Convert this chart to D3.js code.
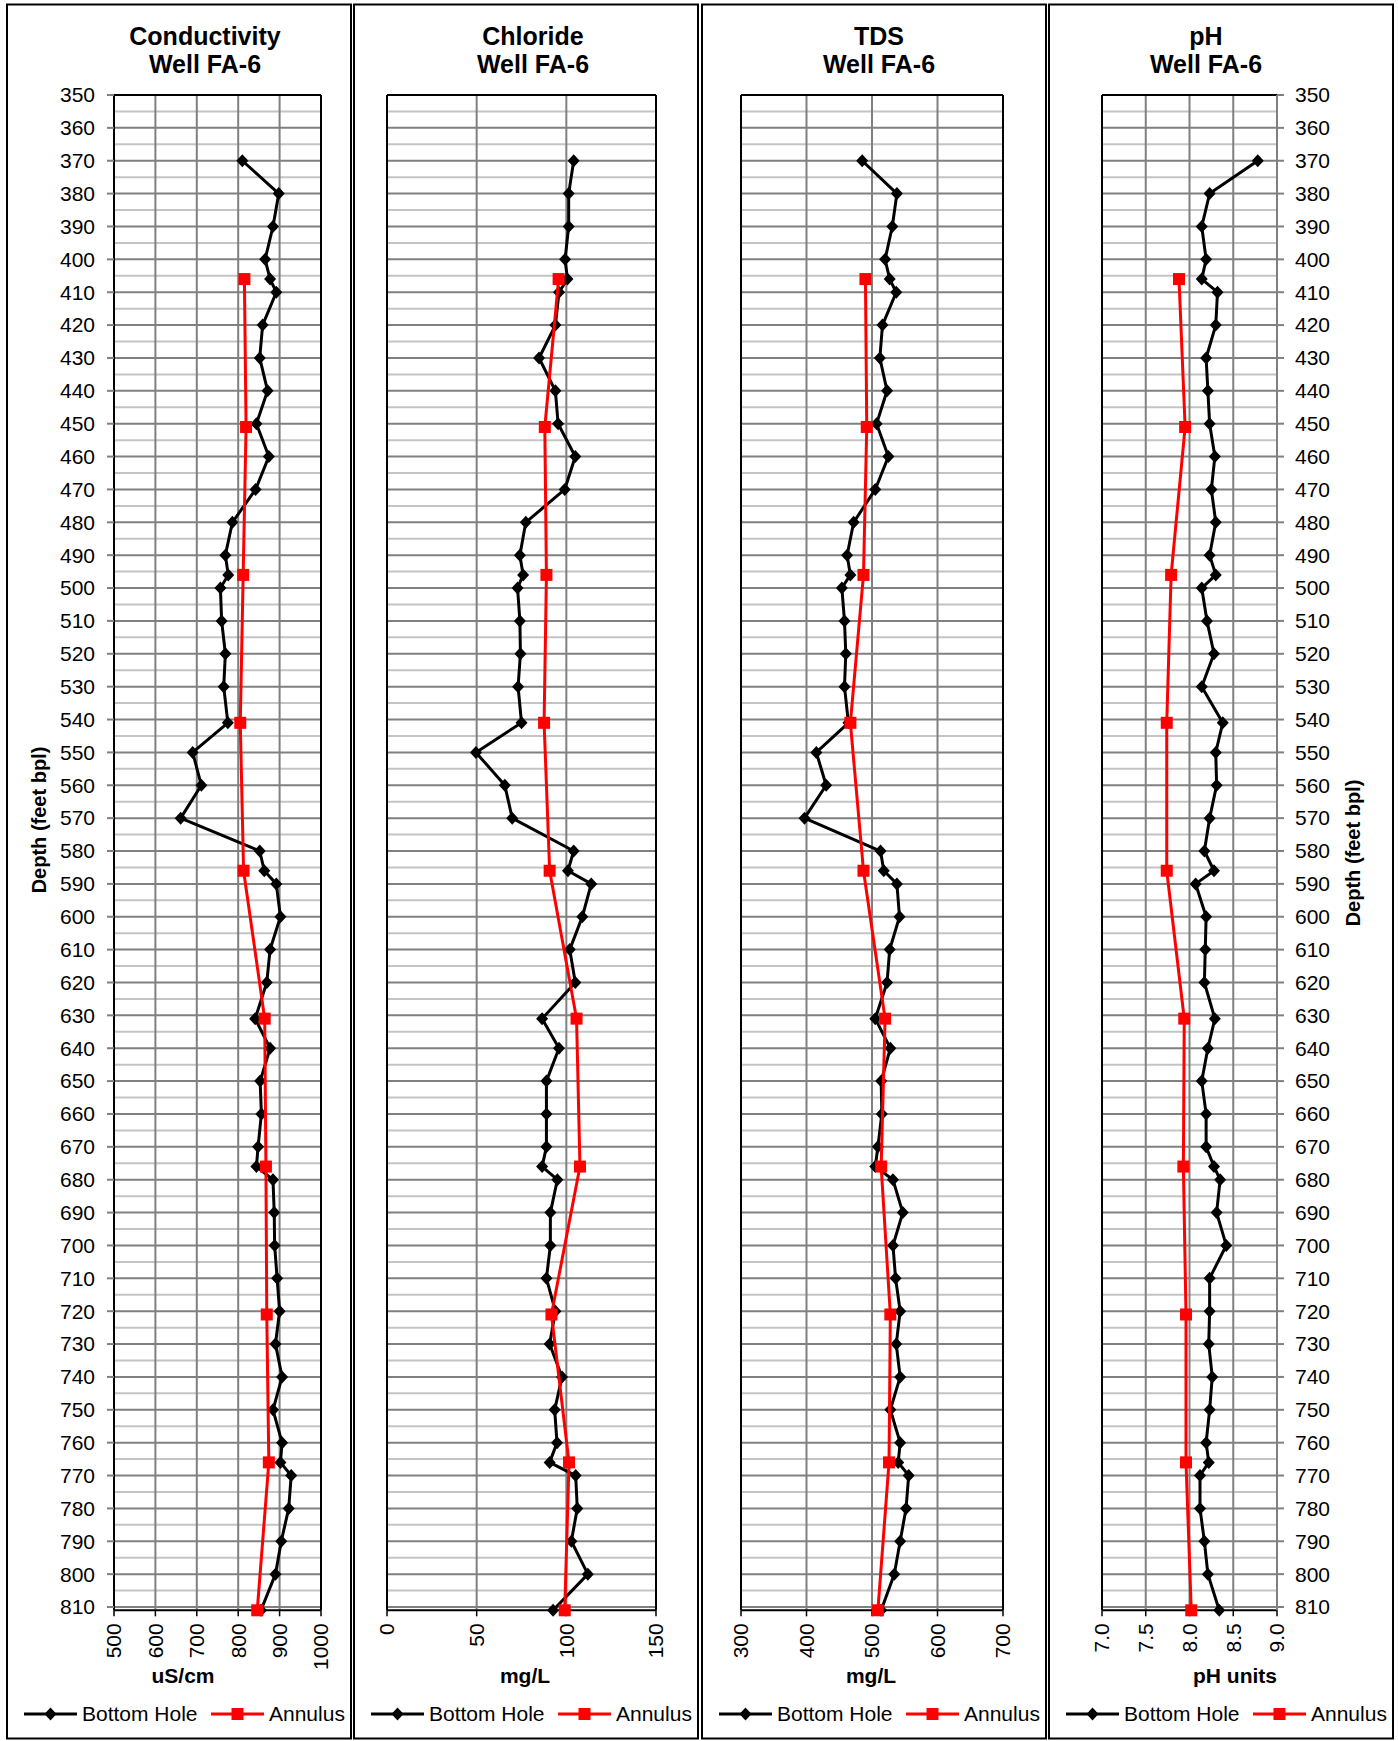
<!DOCTYPE html>
<html>
<head>
<meta charset="utf-8">
<script src="https://cdn.jsdelivr.net/npm/d3@7"></script>
<style>
  body { margin: 0; background: #fff; }
  text { font-family: "Liberation Sans", Arial, sans-serif; fill: #000; }
</style>
</head>
<body>
<div id="chart"></div>
<script>
// sample depths (feet bpl)
const bottomDepth = [370, 380, 390, 400, 406, 410, 420, 430, 440, 450, 460, 470, 480, 490, 496, 500,
  510, 520, 530, 541, 550, 560, 570, 580, 586, 590, 600, 610, 620, 631, 640, 650, 660, 670, 676,
  680, 690, 700, 710, 720, 730, 740, 750, 760, 766, 770, 780, 790, 800, 811];
const annulusDepth = [406, 451, 496, 541, 586, 631, 676, 721, 766, 811];

// conductivity, uS/cm
const condBottom = [810, 898, 884, 865, 877, 892, 859, 852, 871, 844, 874, 842, 786, 769, 776, 757,
  760, 769, 765, 775, 690, 711, 661, 852, 863, 892, 902, 877, 869, 841, 877, 853, 856, 848, 844,
  884, 887, 888, 894, 900, 890, 906, 884, 906, 902, 928, 922, 904, 890, 855];
const condAnnulus = [815, 819, 812, 805, 813, 864, 867, 869, 874, 846];

// chloride, mg/L
const chlBottom = [104.1, 101.3, 101.3, 99.3, 100.6, 95.9, 93.9, 84.8, 93.9, 95.4, 105, 99.1, 77.4, 74.1, 75.9, 72.8,
  74.1, 74.4, 73.1, 75, 49.6, 65.7, 69.8, 104.1, 100.9, 113.9, 108.9, 101.9, 105, 86.5, 95.9, 88.9, 88.9, 88.9, 86.5,
  95, 91.1, 91.1, 88.9, 93.9, 90.7, 97.6, 93.5, 94.8, 90.7, 105.2, 106.1, 102.8, 112, 92.6];
const chlAnnulus = [95.7, 88, 88.9, 87.6, 90.7, 105.7, 107.6, 91.7, 101.5, 99.1];

// TDS, mg/L
const tdsBottom = [485, 538, 531, 520, 527, 537, 516, 512, 523, 507, 525, 505, 472, 462, 467, 454,
  458, 460, 458, 464, 415, 430, 397, 513, 518, 538, 542, 527, 523, 505, 528, 514, 515, 509, 505,
  532, 547, 532, 536, 543, 537, 543, 528, 543, 540, 556, 552, 543, 534, 514];
const tdsAnnulus = [490, 492, 487, 467, 487, 520, 514, 528, 526, 509];

// pH
const phBottom = [8.78, 8.23, 8.14, 8.19, 8.14, 8.32, 8.30, 8.19, 8.21, 8.23, 8.29, 8.25, 8.30, 8.23, 8.30, 8.14,
  8.20, 8.28, 8.14, 8.38, 8.30, 8.31, 8.23, 8.17, 8.28, 8.07, 8.19, 8.18, 8.17, 8.29, 8.21, 8.14, 8.19, 8.19, 8.28,
  8.35, 8.31, 8.42, 8.23, 8.23, 8.22, 8.26, 8.23, 8.19, 8.22, 8.12, 8.12, 8.17, 8.21, 8.34];
const phAnnulus = [7.88, 7.95, 7.79, 7.74, 7.74, 7.94, 7.93, 7.96, 7.96, 8.02];

// axis ticks
const depthTicks = d3.range(350, 811, 10);
const condTicks = [500, 600, 700, 800, 900, 1000];
const chlTicks = [0, 50, 100, 150];
const tdsTicks = [300, 400, 500, 600, 700];
const phTicks = [7.0, 7.5, 8.0, 8.5, 9.0];

const seriesNames = ["Bottom Hole", "Annulus"];

const W = 1398, H = 1741;
const panelW = 344;

const panels = [
  {title: "Conductivity", left: 7, plotL: 114, plotR: 321, ticks: condTicks, fmt: d3.format("d"),
   unit: "uS/cm", unitX: 183, titleX: 205, bottom: condBottom, annulus: condAnnulus, yAxis: "left", yLabY: 820},
  {title: "Chloride", left: 354, plotL: 387, plotR: 656, ticks: chlTicks, fmt: d3.format("d"),
   unit: "mg/L", unitX: 525, titleX: 533, bottom: chlBottom, annulus: chlAnnulus, yAxis: null},
  {title: "TDS", left: 702, plotL: 741, plotR: 1003, ticks: tdsTicks, fmt: d3.format("d"),
   unit: "mg/L", unitX: 871, titleX: 879, bottom: tdsBottom, annulus: tdsAnnulus, yAxis: null},
  {title: "pH", left: 1049, plotL: 1102, plotR: 1277, ticks: phTicks, fmt: d3.format(".1f"),
   unit: "pH units", unitX: 1235, titleX: 1206, bottom: phBottom, annulus: phAnnulus, yAxis: "right", yLabY: 853}
];

const svg = d3.select("#chart").append("svg")
  .attr("width", W).attr("height", H);

svg.append("rect").attr("width", W).attr("height", H).attr("fill", "#fff");

const y = d3.scaleLinear().domain([350, 811]).range([95, 95 + 461 * 3.287]);
const plotTop = y(350), plotBot = y(811);

const diamond = "M0,-6.5L6,0L0,6.5L-6,0Z";

panels.forEach(p => {
  const g = svg.append("g");
  const x = d3.scaleLinear().domain(d3.extent(p.ticks)).range([p.plotL, p.plotR]);

  // panel border
  g.append("rect")
    .attr("x", p.left).attr("y", 4.5)
    .attr("width", panelW).attr("height", 1734)
    .attr("fill", "none").attr("stroke", "#000").attr("stroke-width", 2);

  // title
  g.append("text")
    .attr("x", p.titleX).attr("y", 45)
    .attr("text-anchor", "middle")
    .style("font-size", "25px").style("font-weight", "bold")
    .text(p.title);
  g.append("text")
    .attr("x", p.titleX).attr("y", 73)
    .attr("text-anchor", "middle")
    .style("font-size", "25px").style("font-weight", "bold")
    .text("Well FA-6");

  // horizontal grid every 5 ft
  g.selectAll("line.hgrid")
    .data(d3.range(350, 811, 5))
    .join("line")
    .attr("class", "hgrid")
    .attr("x1", p.plotL).attr("x2", p.plotR)
    .attr("y1", d => y(d)).attr("y2", d => y(d))
    .attr("stroke", d => d % 10 === 0 ? "#808080" : "#c4c4c4")
    .attr("stroke-width", 2);

  // vertical grid
  g.selectAll("line.vgrid")
    .data(p.ticks.slice(1))
    .join("line")
    .attr("class", "vgrid")
    .attr("x1", d => x(d)).attr("x2", d => x(d))
    .attr("y1", plotTop).attr("y2", plotBot)
    .attr("stroke", "#808080")
    .attr("stroke-width", 2);

  // frame
  g.append("line").attr("x1", p.plotL).attr("x2", p.plotR).attr("y1", plotTop).attr("y2", plotTop)
    .attr("stroke", "#000").attr("stroke-width", 2);
  g.append("line").attr("x1", p.plotL).attr("x2", p.plotR).attr("y1", plotBot).attr("y2", plotBot)
    .attr("stroke", "#000").attr("stroke-width", 2);
  g.append("line").attr("x1", p.plotL).attr("x2", p.plotL).attr("y1", plotTop).attr("y2", plotBot)
    .attr("stroke", "#000").attr("stroke-width", 2);
  g.append("line").attr("x1", p.plotR).attr("x2", p.plotR).attr("y1", plotTop).attr("y2", plotBot)
    .attr("stroke", p.yAxis === "right" ? "#808080" : "#000").attr("stroke-width", 2);

  // x ticks and labels (rotated)
  g.selectAll("line.xtick")
    .data(p.ticks)
    .join("line")
    .attr("class", "xtick")
    .attr("x1", d => x(d)).attr("x2", d => x(d))
    .attr("y1", plotBot).attr("y2", plotBot + 6)
    .attr("stroke", "#000").attr("stroke-width", 1.5);
  g.selectAll("text.xlab")
    .data(p.ticks)
    .join("text")
    .attr("class", "xlab")
    .attr("transform", d => `translate(${x(d)},${plotBot + 13}) rotate(-90)`)
    .attr("text-anchor", "end")
    .attr("dy", "0.35em")
    .style("font-size", "21px")
    .text(d => p.fmt(d));

  g.append("text")
    .attr("x", p.unitX).attr("y", 1683)
    .attr("text-anchor", "middle")
    .style("font-size", "21px").style("font-weight", "bold")
    .text(p.unit);

  // depth axis
  if (p.yAxis) {
    const left = p.yAxis === "left";
    const x0 = left ? p.plotL : p.plotR;
    const dir = left ? -1 : 1;
    g.selectAll("line.ytick")
      .data(depthTicks)
      .join("line")
      .attr("class", "ytick")
      .attr("x1", x0).attr("x2", x0 + dir * 7)
      .attr("y1", d => y(d)).attr("y2", d => y(d))
      .attr("stroke", "#808080").attr("stroke-width", 2);
    g.selectAll("text.ylab")
      .data(depthTicks)
      .join("text")
      .attr("class", "ylab")
      .attr("x", left ? 95 : 1295)
      .attr("y", d => y(d))
      .attr("dy", "0.35em")
      .attr("text-anchor", left ? "end" : "start")
      .style("font-size", "21px")
      .text(d => d);
    g.append("text")
      .attr("transform", `translate(${left ? 39 : 1353},${p.yLabY}) rotate(-90)`)
      .attr("text-anchor", "middle")
      .attr("dy", "0.35em")
      .style("font-size", "20px").style("font-weight", "bold")
      .text("Depth (feet bpl)");
  }

  // series
  const line = d3.line().x(d => x(d[1])).y(d => y(d[0]));
  const bh = bottomDepth.map((d, i) => [d, p.bottom[i]]);
  const an = annulusDepth.map((d, i) => [d, p.annulus[i]]);

  g.append("path").datum(bh).attr("d", line)
    .attr("fill", "none").attr("stroke", "#000").attr("stroke-width", 3)
    .attr("stroke-linejoin", "round");
  g.selectAll("path.bhm").data(bh).join("path")
    .attr("class", "bhm")
    .attr("d", diamond)
    .attr("transform", d => `translate(${x(d[1])},${y(d[0])})`)
    .attr("fill", "#000");

  g.append("path").datum(an).attr("d", line)
    .attr("fill", "none").attr("stroke", "#ff0000").attr("stroke-width", 3)
    .attr("stroke-linejoin", "round");
  g.selectAll("rect.anm").data(an).join("rect")
    .attr("class", "anm")
    .attr("x", d => x(d[1]) - 6).attr("y", d => y(d[0]) - 6)
    .attr("width", 12).attr("height", 12)
    .attr("fill", "#ff0000");

  // legend
  const ly = 1714;
  const lg = g.append("g").attr("transform", `translate(${p.left},${ly})`);
  lg.append("line").attr("x1", 17).attr("x2", 70).attr("y1", 0).attr("y2", 0)
    .attr("stroke", "#000").attr("stroke-width", 3);
  lg.append("path").attr("d", diamond).attr("transform", "translate(43.5,0)").attr("fill", "#000");
  lg.append("text").attr("x", 75).attr("y", 0).attr("dy", "0.35em")
    .style("font-size", "21px").text(seriesNames[0]);
  lg.append("line").attr("x1", 204).attr("x2", 257).attr("y1", 0).attr("y2", 0)
    .attr("stroke", "#ff0000").attr("stroke-width", 3);
  lg.append("rect").attr("x", 224.5).attr("y", -6).attr("width", 12).attr("height", 12).attr("fill", "#ff0000");
  lg.append("text").attr("x", 262).attr("y", 0).attr("dy", "0.35em")
    .style("font-size", "21px").text(seriesNames[1]);
});
</script>
</body>
</html>
